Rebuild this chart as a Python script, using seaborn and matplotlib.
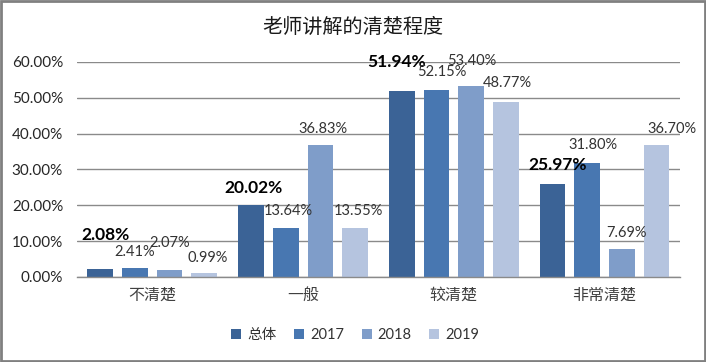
import pandas as pd
import matplotlib.pyplot as plt
import matplotlib.patches as mpatches
import seaborn as sns

categories = ['不清楚', '一般', '较清楚', '非常清楚']
series_names = ['总体', '2017', '2018', '2019']
total = [2.08, 20.02, 51.94, 25.97]
y2017 = [2.41, 13.64, 52.15, 31.80]
y2018 = [2.07, 36.83, 53.40, 7.69]
y2019 = [0.99, 13.55, 48.77, 36.70]
colors = ['#3b6396', '#4877b1', '#7f9dc9', '#b5c4df']

# label nudges in pixels (dx, dy) from the bar top, by category then series
label_nudge = [
    [(5, 34), (0, 16), (0, 27), (3, 15)],
    [(2, 17), (3, 17), (3, 16), (3, 17)],
    [(-5, 29), (5, 18), (1, 25), (2, 19)],
    [(5, 19), (6, 18), (5, 16), (15, 16)],
]

rows = []
for name, vals in zip(series_names, [total, y2017, y2018, y2019]):
    for cat, v in zip(categories, vals):
        rows.append({'cat': cat, 'series': name, 'value': v / 100})
df = pd.DataFrame(rows)

sns.set_style('white')
plt.rcParams['font.family'] = ['Lato', 'Noto Sans CJK SC', 'DejaVu Sans']

fig = plt.figure(figsize=(7.06, 3.62), dpi=100)
ax = fig.add_axes([0.109, 0.235, 0.854, 0.594])

sns.barplot(data=df, x='cat', y='value', hue='series', palette=colors,
            width=0.92, gap=0.26, ax=ax, saturation=1, linewidth=0)

ax.set_ylim(0, 0.6)
ax.set_xlim(-0.5, 3.5)
ax.set_yticks([0, 0.1, 0.2, 0.3, 0.4, 0.5, 0.6])
ax.set_yticklabels([f'{t * 100:.2f}%' for t in ax.get_yticks()], fontsize=11, color='#262626')
ax.set_xticks(range(len(categories)))
ax.set_xticklabels(categories, fontsize=11.5, color='#404040')
ax.tick_params(axis='y', length=0, pad=10)
ax.tick_params(axis='x', length=0, pad=8)
ax.set_xlabel('')
ax.set_ylabel('')
ax.yaxis.grid(True, color='#8a8a8a', linewidth=1)
ax.set_axisbelow(True)
for s in ['top', 'right', 'left']:
    ax.spines[s].set_visible(False)
ax.spines['bottom'].set_color('#8a8a8a')
ax.spines['bottom'].set_linewidth(1)

for j, cont in enumerate(ax.containers):
    for i, bar in enumerate(cont):
        h = bar.get_height()
        dx, dy = label_nudge[i][j]
        bold = j == 0
        ax.annotate(f'{h * 100:.2f}%', (bar.get_x() + bar.get_width() / 2, h),
                    xytext=(dx, dy), textcoords='offset pixels',
                    ha='center', va='center',
                    fontsize=12.5 if bold else 10.5,
                    fontweight='bold' if bold else 'normal',
                    color='#000000' if bold else '#333333')

handles, labels = ax.get_legend_handles_labels()
ax.legend_.remove()
fig.legend(handles, labels, loc='center', bbox_to_anchor=(0.503, 0.075), ncol=4,
           frameon=False, fontsize=10.5, handlelength=0.7, handleheight=0.7,
           handletextpad=0.4, columnspacing=1.2, labelcolor='#333333')

fig.suptitle('老师讲解的清楚程度', y=0.955, fontsize=14.5, color='#1a1a1a')

fig.patches.append(mpatches.Rectangle((0.001, 0.002), 0.997, 0.995, transform=fig.transFigure,
                                      fill=False, edgecolor='#808080', linewidth=2))

fig.savefig('out.png', dpi=100)
